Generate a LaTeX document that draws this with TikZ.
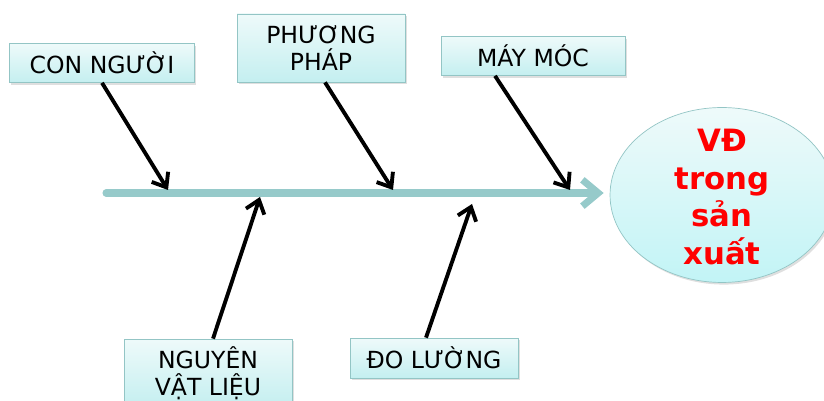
\documentclass[tikz,border=0pt]{standalone}
\usepackage{fontspec}
\setmainfont{DejaVu Sans}
\usetikzlibrary{arrows.meta,shapes.geometric,shadows}
\definecolor{spinecol}{HTML}{96CACA}
\definecolor{boxline}{HTML}{93C5C5}
\definecolor{boxtop}{HTML}{EEFAFA}
\definecolor{boxbot}{HTML}{C4EFF0}
\definecolor{goalbot}{HTML}{C2F4F6}
\definecolor{vdred}{HTML}{FF0000}

\begin{document}
\begin{tikzpicture}[x=0.02cm, y=-0.02cm,
  box/.style={draw=boxline, top color=boxtop, bottom color=boxbot, align=center,
    font=\fontsize{13.4}{15.3}\selectfont, inner sep=0pt,
    drop shadow={opacity=0.25, shadow xshift=1pt, shadow yshift=-1.2pt}},
  goal/.style={ellipse, draw=boxline, top color=boxtop, bottom color=goalbot, inner sep=0pt,
    minimum width=4.48cm, minimum height=3.5cm,
    drop shadow={opacity=0.25, shadow xshift=1pt, shadow yshift=-1.2pt}},
  cause/.style={-{Straight Barb[length=7pt, width=11pt]}, line width=2.2pt, black}]
  \useasboundingbox (0,0) rectangle (824,401); % picture frame

  \node[box, minimum width=3.7cm, minimum height=0.78cm] (nguoi) at (102,63) {CON NGƯỜI}; % top row
  \node[box, minimum width=3.36cm, minimum height=1.36cm] (phuongphap) at (321,48) {PHƯƠNG\\PHÁP};
  \node[box, minimum width=3.68cm, minimum height=0.78cm] (may) at (533,56) {MÁY MÓC};
  \node[box, minimum width=3.36cm, minimum height=1.36cm] (nvl) at (208,373) {NGUYÊN\\VẬT LIỆU}; % bottom row
  \node[box, minimum width=3.36cm, minimum height=0.8cm] (doluong) at (434,358) {ĐO LƯỜNG};

  \node[goal] (vd) at (722,195) {}; % effect
  \node[text=vdred, align=center, font=\bfseries\fontsize{17.5}{21.5}\selectfont] (vdtext) at ([yshift=-0.04cm]vd.center) {VĐ\\trong\\sản\\xuất};

  \coordinate (tail) at (106,193); % spine
  \draw[spinecol, line width=4pt, line cap=round, -{Straight Barb[length=9pt, width=15pt]}] (tail) -- ([xshift=-0.12cm]vd.west |- tail);

  \coordinate (p1) at (168,190); % points on the spine
  \coordinate (p2) at (393,190);
  \coordinate (p3) at (570,190);
  \coordinate (p4) at (260,197);
  \coordinate (p5) at (472,204);

  \draw[cause] (nguoi.south) -- (p1);
  \draw[cause] ([xshift=0.08cm]phuongphap.south) -- (p2);
  \draw[cause] ([xshift=-0.76cm]may.south) -- (p3);
  \draw[cause] ([xshift=0.1cm]nvl.north) -- (p4);
  \draw[cause] ([xshift=-0.16cm]doluong.north) -- (p5);

\end{tikzpicture}
\end{document}
